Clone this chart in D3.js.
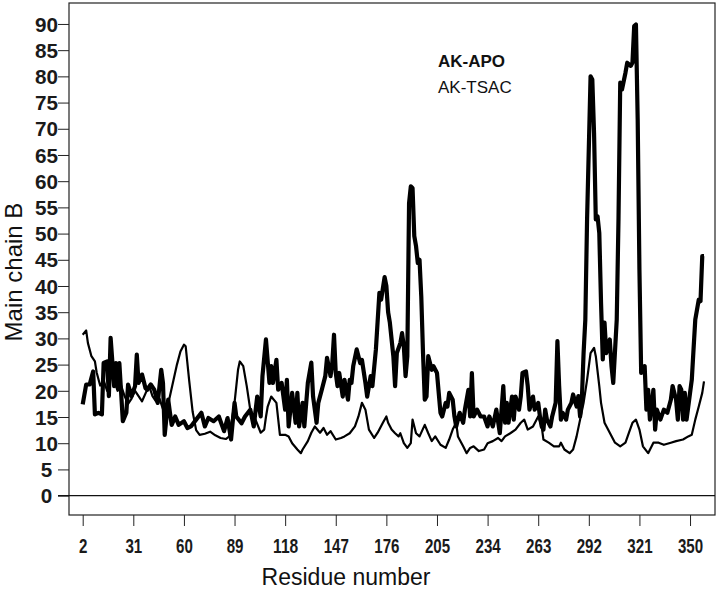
<!DOCTYPE html>
<html lang="en">
<head>
    <meta charset="UTF-8">
    <title>Main chain B factors: AK-APO vs AK-TSAC</title>
    <script src="https://d3js.org/d3.v7.min.js"></script>
    <style>
        body {
            margin: 0;
            background: #fff;
        }

        .tick text {
            font-family: "Liberation Sans Narrow", "Liberation Sans", Arial, sans-serif;
            font-weight: bold;
            fill: #1a1a1a;
        }

        .tick line {
            stroke: #222;
        }

        .axis-title {
            font-family: "Liberation Sans", Arial, sans-serif;
            font-size: 23px;
            fill: #111;
        }

        .legend {
            font-family: "Liberation Sans", Arial, sans-serif;
            font-size: 17px;
            fill: #111;
        }
    </style>
</head>
<body>
    <svg id="chart"></svg>

    <script>
        // residue number / main chain B
        const apoResidue = [2, 4, 6, 8, 9, 11, 13, 14, 16, 17, 18, 20, 21, 22, 23, 25, 27, 28, 30, 32,
            33, 34, 36, 38, 39, 41, 43, 45, 47, 48, 49, 51, 52, 53, 55, 57, 60, 62, 64, 67,
            70, 72, 74, 77, 80, 83, 85, 87, 89, 90, 93, 95, 98, 100, 102, 104, 105, 107, 109, 110,
            111, 113, 114, 116, 118, 119, 120, 122, 124, 125, 126, 128, 129, 131, 133, 134, 136, 137, 139, 141,
            142, 144, 145, 146, 147, 148, 149, 151, 152, 154, 155, 156, 157, 159, 161, 162, 164, 165, 167, 168,
            170, 172, 173, 175, 176, 177, 178, 180, 181, 182, 184, 185, 186, 187, 188, 189, 190, 191, 192, 193,
            194, 195, 196, 197, 198, 199, 200, 202, 203, 205, 207, 208, 210, 211, 212, 214, 215, 216, 218, 220,
            221, 223, 224, 225, 226, 228, 230, 232, 234, 235, 237, 239, 241, 243, 244, 245, 246, 248, 249, 250,
            252, 253, 254, 256, 257, 258, 260, 261, 263, 264, 265, 266, 267, 268, 270, 271, 273, 274, 275, 276,
            277, 279, 280, 282, 283, 285, 286, 287, 288, 289, 290, 291, 293, 294, 295, 296, 297, 298, 299, 300,
            301, 302, 304, 305, 306, 308, 309, 310, 311, 313, 314, 316, 317, 318, 319, 320, 321, 322, 324, 325,
            326, 327, 329, 330, 331, 333, 335, 337, 339, 340, 342, 343, 344, 345, 346, 347, 348, 350, 351, 352,
            353, 355, 356, 357, 358];
        const apoB = [17.4, 21.2, 21.2, 23.7, 15.5, 15.8, 15.5, 25.3, 25.6, 19.0, 30.1, 20.9, 25.3, 20.9, 25.3, 14.2, 15.8, 21.2, 19.0, 20.9,
            26.9, 21.5, 23.1, 20.5, 20.2, 21.2, 20.2, 17.7, 24.0, 21.5, 11.6, 18.3, 15.8, 13.5, 15.1, 13.5, 14.2, 12.9, 13.2, 14.5,
            15.8, 13.2, 14.8, 14.2, 15.1, 12.3, 14.8, 10.7, 17.7, 15.1, 13.8, 15.1, 16.4, 13.2, 18.9, 15.1, 22.8, 29.8, 21.5, 24.7,
            21.5, 25.9, 20.2, 21.5, 16.4, 22.1, 13.2, 19.6, 13.9, 19.6, 13.2, 17.7, 13.2, 21.5, 25.4, 18.9, 13.9, 17.7, 20.2, 22.8,
            26.3, 22.8, 25.3, 30.7, 23.4, 20.9, 23.4, 18.9, 22.1, 18.3, 22.1, 21.5, 24.7, 27.9, 25.3, 25.9, 21.5, 18.9, 22.8, 20.9,
            27.9, 38.7, 37.4, 41.7, 40.0, 35.0, 33.0, 26.6, 20.9, 27.2, 29.1, 31.0, 28.5, 22.8, 26.6, 55.8, 59.0, 58.7, 49.5, 47.6,
            44.4, 45.0, 38.0, 27.2, 18.3, 18.9, 26.6, 24.0, 24.7, 23.4, 15.8, 15.1, 17.7, 17.0, 19.6, 18.3, 15.1, 13.2, 15.8, 13.9,
            16.4, 20.2, 15.1, 23.4, 15.1, 16.4, 15.1, 15.1, 13.2, 15.1, 13.2, 16.4, 11.9, 20.9, 13.9, 17.7, 13.9, 18.9, 14.5, 18.9,
            16.4, 18.9, 23.4, 23.7, 20.9, 16.4, 18.9, 16.4, 17.7, 15.1, 13.2, 12.6, 16.4, 14.5, 13.2, 15.1, 17.7, 29.5, 20.9, 14.5,
            15.8, 14.5, 16.4, 17.7, 19.3, 17.0, 19.0, 15.1, 18.3, 27.2, 33.6, 52.7, 80.0, 79.4, 69.2, 52.7, 53.3, 50.1, 36.8, 26.0,
            33.0, 27.2, 29.8, 24.7, 21.5, 33.6, 52.7, 78.8, 77.5, 80.7, 82.6, 82.0, 82.6, 89.6, 89.9, 71.8, 43.1, 23.4, 24.7, 16.4,
            20.2, 14.5, 20.2, 12.6, 16.4, 14.5, 16.4, 15.8, 18.3, 20.9, 18.3, 14.5, 20.9, 20.2, 14.5, 19.6, 14.5, 19.6, 22.1, 27.9,
            33.6, 37.4, 37.1, 45.7, 45.7];

        const tsacResidue = [2, 4, 5, 7, 9, 10, 12, 14, 16, 18, 20, 22, 24, 26, 28, 30, 32, 34, 36, 38,
            40, 42, 44, 46, 48, 50, 52, 54, 56, 58, 60, 61, 63, 65, 67, 69, 72, 75, 78, 81,
            84, 86, 89, 91, 92, 94, 96, 98, 101, 104, 106, 107, 108, 110, 113, 115, 118, 120, 122, 125,
            127, 128, 131, 133, 135, 138, 140, 142, 144, 147, 150, 152, 155, 158, 160, 162, 164, 166, 169, 171,
            174, 176, 177, 179, 181, 183, 184, 186, 188, 190, 191, 193, 195, 198, 200, 202, 204, 207, 210, 212,
            214, 216, 217, 220, 222, 224, 226, 229, 232, 234, 237, 240, 242, 244, 247, 250, 253, 255, 257, 260,
            263, 265, 266, 269, 272, 275, 276, 278, 281, 283, 285, 287, 289, 291, 293, 295, 296, 298, 299, 301,
            304, 307, 310, 313, 315, 317, 319, 321, 323, 326, 329, 332, 335, 339, 342, 346, 349, 351, 353, 355,
            357, 358];
        const tsacB = [30.7, 31.5, 29.1, 26.6, 25.6, 23.5, 21.0, 22.0, 20.0, 23.0, 22.0, 20.0, 21.0, 19.0, 17.5, 18.5, 20.0, 19.0, 18.0, 19.5,
            21.0, 19.0, 18.0, 18.5, 16.5, 16.0, 19.0, 22.0, 25.0, 27.5, 28.8, 28.5, 22.0, 16.0, 12.5, 11.6, 11.8, 12.2, 11.5, 11.0,
            10.8, 11.3, 17.7, 24.0, 25.6, 24.7, 20.9, 16.4, 14.5, 12.0, 12.6, 15.0, 17.0, 18.9, 17.7, 11.6, 11.6, 11.3, 10.0, 8.8,
            8.1, 8.8, 10.4, 12.0, 13.2, 12.0, 12.9, 11.6, 12.3, 10.7, 11.0, 11.3, 11.9, 13.2, 15.1, 17.7, 16.4, 12.6, 11.0, 12.0,
            13.9, 15.1, 13.9, 12.6, 11.9, 11.3, 11.9, 10.0, 9.1, 10.0, 14.5, 11.9, 11.3, 13.5, 11.9, 10.4, 11.3, 9.7, 9.1, 10.7,
            12.6, 13.9, 11.3, 9.4, 8.1, 9.1, 9.4, 8.5, 8.8, 10.0, 10.4, 11.0, 10.4, 11.3, 11.9, 12.6, 13.9, 14.5, 12.6, 13.2,
            15.1, 13.2, 10.7, 10.1, 9.4, 9.4, 10.1, 8.8, 8.1, 8.8, 11.3, 14.5, 17.7, 22.1, 27.2, 28.2, 26.6, 20.9, 17.7, 13.9,
            12.0, 10.1, 9.4, 10.1, 12.0, 13.9, 14.5, 12.6, 9.4, 8.1, 10.1, 10.1, 9.7, 10.1, 10.4, 10.7, 11.3, 11.6, 14.5, 17.0,
            19.6, 21.8];

        const xTicks = [2, 31, 60, 89, 118, 147, 176, 205, 234, 263, 292, 321, 350];
        const yTicks = [0, 5, 10, 15, 20, 25, 30, 35, 40, 45, 50, 55, 60, 65, 70, 75, 80, 85, 90];

        const apoData = apoResidue.map((r, i) => ({ residue: r, b: apoB[i] }));
        const tsacData = tsacResidue.map((r, i) => ({ residue: r, b: tsacB[i] }));

        const width = 720, height = 591;
        const margin = { top: 3, right: 5, bottom: 76, left: 69 };
        const innerW = width - margin.left - margin.right;
        const innerH = height - margin.top - margin.bottom;

        const svg = d3.select("#chart")
            .attr("width", width)
            .attr("height", height)
            .append("g")
            .attr("transform", `translate(${margin.left},${margin.top})`);

        const x = d3.scaleLinear().domain([-5.85, 364.3]).range([0, innerW]);
        const y = d3.scaleLinear().domain([-3.7, 94]).range([innerH, 0]);

        // y axis: labels centred under each other like the original
        const yAxis = svg.append("g")
            .attr("class", "y-axis")
            .call(d3.axisLeft(y).tickValues(yTicks).tickSize(11).tickSizeOuter(0));
        yAxis.select(".domain").remove();
        yAxis.selectAll("text")
            .attr("x", -22.5)
            .attr("dy", "0.36em")
            .attr("text-anchor", "middle")
            .style("font-size", "20px")
            .attr("textLength", d => String(d).length * 11.5)
            .attr("lengthAdjust", "spacingAndGlyphs");

        const xAxis = svg.append("g")
            .attr("class", "x-axis")
            .attr("transform", `translate(0,${innerH})`)
            .call(d3.axisBottom(x).tickValues(xTicks).tickSize(11).tickSizeOuter(0));
        xAxis.select(".domain").remove();
        xAxis.selectAll("text")
            .attr("y", 38)
            .attr("dy", 0)
            .style("font-size", "21px")
            .attr("textLength", d => String(d).length * 8.4)
            .attr("lengthAdjust", "spacingAndGlyphs");

        // frame
        svg.append("rect")
            .attr("width", innerW)
            .attr("height", innerH)
            .attr("fill", "none")
            .attr("stroke", "#222")
            .attr("stroke-width", 1.2);

        // zero line runs out through the tick
        svg.append("line")
            .attr("x1", -11)
            .attr("x2", innerW)
            .attr("y1", y(0))
            .attr("y2", y(0))
            .attr("stroke", "#111")
            .attr("stroke-width", 1.2);

        const line = d3.line()
            .x(d => x(d.residue))
            .y(d => y(d.b));

        svg.append("path")
            .datum(tsacData)
            .attr("d", line)
            .attr("fill", "none")
            .attr("stroke", "#000")
            .attr("stroke-width", 2.2)
            .attr("stroke-linejoin", "round");

        svg.append("path")
            .datum(apoData)
            .attr("d", line)
            .attr("fill", "none")
            .attr("stroke", "#000")
            .attr("stroke-width", 4.2)
            .attr("stroke-linejoin", "round");

        // legend
        svg.append("text")
            .attr("class", "legend")
            .attr("x", 438 - margin.left)
            .attr("y", 67 - margin.top)
            .style("font-weight", "bold")
            .text("AK-APO");
        svg.append("text")
            .attr("class", "legend")
            .attr("x", 438 - margin.left)
            .attr("y", 93 - margin.top)
            .text("AK-TSAC");

        // axis titles
        svg.append("text")
            .attr("class", "axis-title")
            .attr("x", 346 - margin.left)
            .attr("y", 585 - margin.top)
            .attr("text-anchor", "middle")
            .text("Residue number");

        svg.append("text")
            .attr("class", "axis-title")
            .attr("transform", `translate(${22 - margin.left},${272 - margin.top}) rotate(-90)`)
            .attr("text-anchor", "middle")
            .style("font-size", "24px")
            .text("Main chain B");
    </script>
</body>
</html>
